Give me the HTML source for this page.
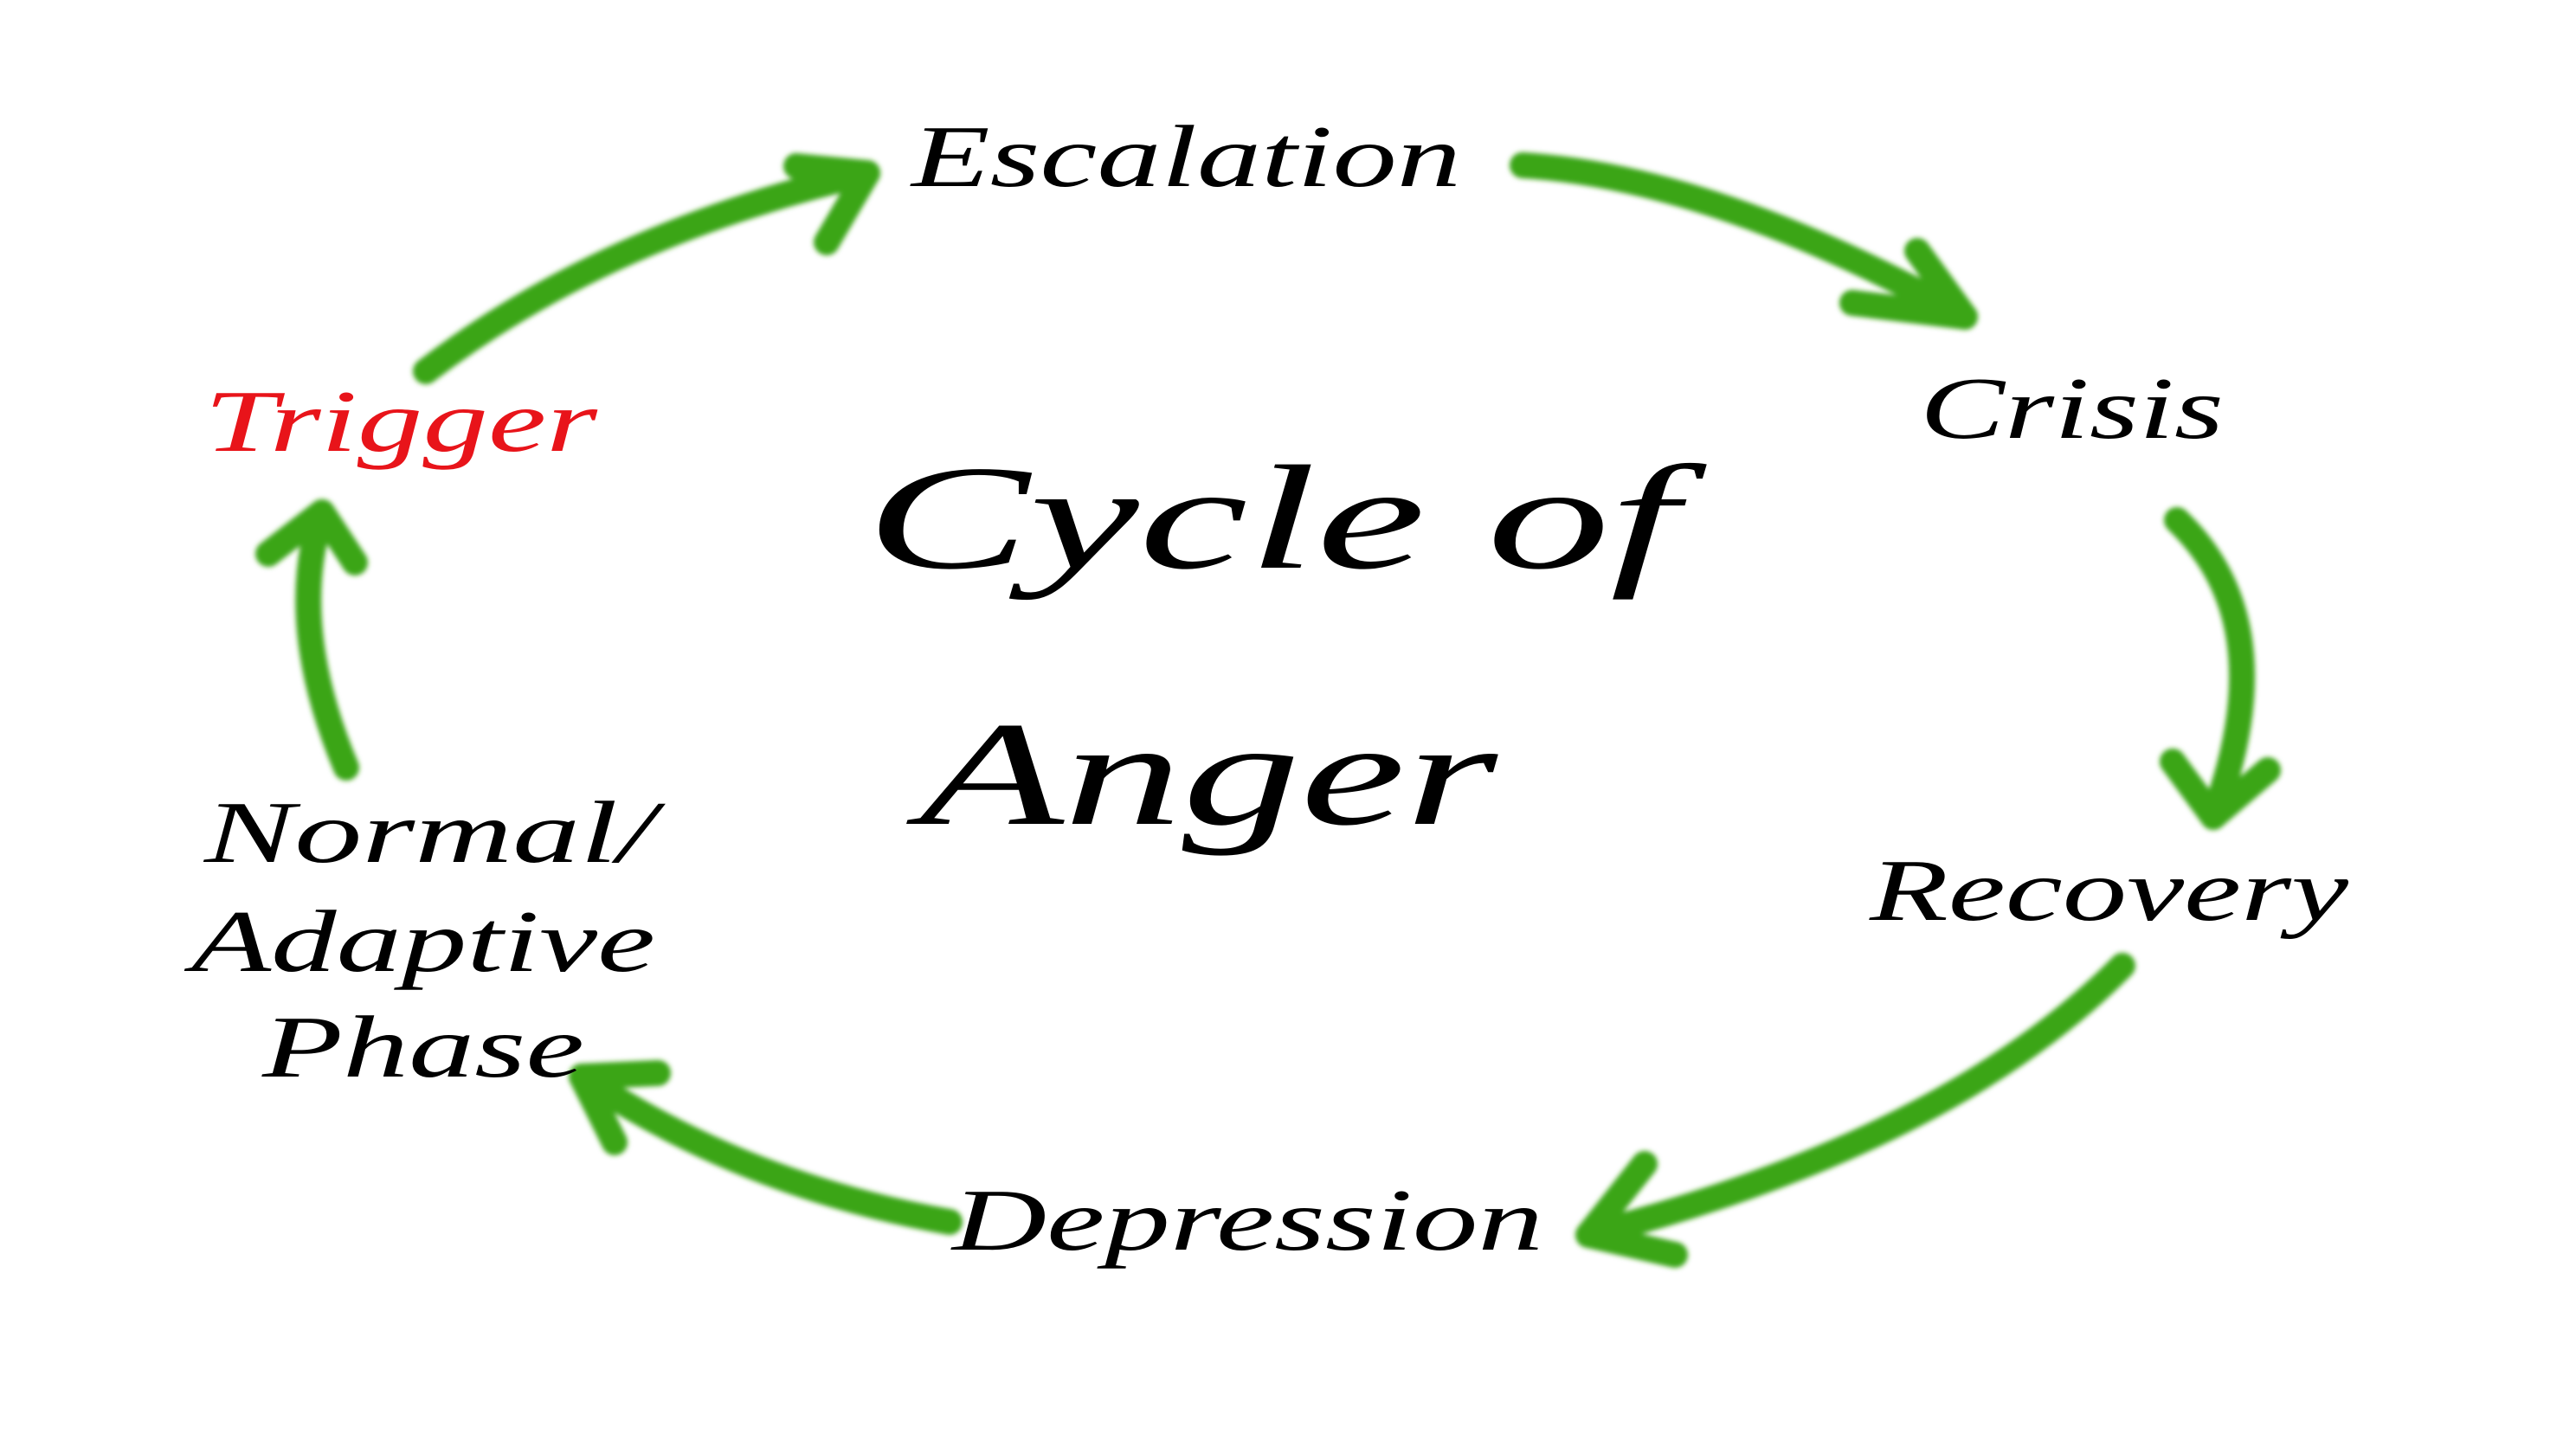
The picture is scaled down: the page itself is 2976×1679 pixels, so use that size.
<!DOCTYPE html>
<html><head><meta charset="utf-8"><style>
html,body{margin:0;padding:0;background:#fff;}
svg{display:block;}
text{font-family:"Liberation Serif",serif;font-style:italic;}
</style></head><body>
<svg width="2976" height="1679" viewBox="0 0 2976 1679" xmlns="http://www.w3.org/2000/svg">
<defs><filter id="b" x="-10%" y="-10%" width="120%" height="120%"><feGaussianBlur stdDeviation="3"/></filter></defs>
<g fill="none" stroke="#3aa516" stroke-width="30" stroke-linecap="round" stroke-linejoin="round" filter="url(#b)">
<path d="M492 429 Q700 270 1002 200"/><path d="M920 192 L1002 200 L955 280"/>
<path d="M1759 191 Q1980 205 2270 366"/><path d="M2140 350 L2270 366 L2215 290"/>
<path d="M2515 601 Q2640 720 2557 944"/><path d="M2510 880 L2557 944 L2620 890"/>
<path d="M2452 1116 Q2250 1320 1835 1427"/><path d="M1900 1345 L1835 1427 L1935 1450"/>
<path d="M1097 1412 Q860 1370 672 1244"/><path d="M760 1240 L672 1244 L710 1320"/>
<path d="M400 887 Q330 720 372 592"/><path d="M310 640 L372 592 L410 650"/>
</g>
<g fill="#000" font-size="102">
<text x="1053" y="215" textLength="635" lengthAdjust="spacingAndGlyphs">Escalation</text>
<text x="2218" y="506" textLength="351" lengthAdjust="spacingAndGlyphs">Crisis</text>
<text x="236" y="521" textLength="454" lengthAdjust="spacingAndGlyphs" fill="#e8141a">Trigger</text>
<text x="2160" y="1063" textLength="553" lengthAdjust="spacingAndGlyphs">Recovery</text>
<text x="1100" y="1444" textLength="683" lengthAdjust="spacingAndGlyphs">Depression</text>
<text x="236" y="996" textLength="521" lengthAdjust="spacingAndGlyphs">Normal/</text>
<text x="221" y="1122" textLength="536" lengthAdjust="spacingAndGlyphs">Adaptive</text>
<text x="303" y="1244" textLength="372" lengthAdjust="spacingAndGlyphs">Phase</text>
<text x="1000" y="656" font-size="172" textLength="939" lengthAdjust="spacingAndGlyphs">Cycle of</text>
<text x="1062" y="952" font-size="172" textLength="668" lengthAdjust="spacingAndGlyphs">Anger</text>
</g>
</svg>
</body></html>
